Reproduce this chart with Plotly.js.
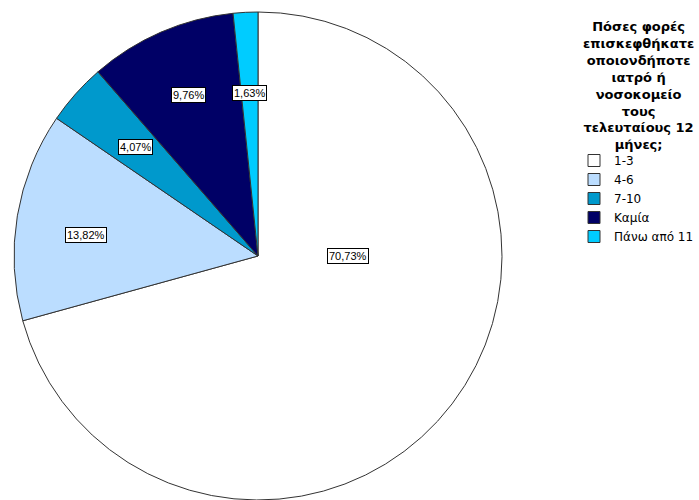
<!DOCTYPE html>
<html>
<head>
<meta charset="utf-8">
<script src="https://cdn.plot.ly/plotly-3.0.1.min.js"></script>
<style>
  html, body { margin: 0; padding: 0; background: #ffffff; }
  #chart { width: 699px; height: 500px; }
</style>
</head>
<body>
<div id="chart"></div>
<script>
// ---- data ----
const categories = ['1-3', '4-6', '7-10', 'Καμία', 'Πάνω από 11'];
const values = [70.73, 13.82, 4.07, 9.76, 1.63];
const valueLabels = ['70,73%', '13,82%', '4,07%', '9,76%', '1,63%'];
const legendTitle = 'Πόσες φορές<br>επισκεφθήκατε<br>οποιονδήποτε<br>ιατρό ή<br>νοσοκομείο<br>τους<br>τελευταίους 12<br>μήνες;';

// ---- style ----
const colors = ['#ffffff', '#bbddff', '#0099cc', '#000066', '#00ccff'];
const W = 699, H = 500;
const M = { l: 0, r: 0, t: 12, b: 0, pad: 0, autoexpand: false };
const domX = [13 / W, 503 / W];
const labelR = [0.37, 0.71, 0.67, 0.72, 0.67];   // radial fraction of label
const labelAngleOverride = [90, 277, null, null, null]; // degrees clockwise from top

// pie geometry (pixels) derived from layout
const plotW = W - M.l - M.r, plotH = H - M.t - M.b;
const dwPx = (domX[1] - domX[0]) * plotW;
const radius = Math.min(dwPx, plotH) / 2;
const cxPx = M.l + (domX[0] + domX[1]) / 2 * plotW;
const cyPx = M.t + plotH / 2;

const total = values.reduce((a, b) => a + b, 0);
let cum = 0;
const annotations = [];
values.forEach((v, i) => {
  const a0 = cum / total * 360;
  cum += v;
  const a1 = cum / total * 360;
  const mid = labelAngleOverride[i] !== null ? labelAngleOverride[i] : (a0 + a1) / 2;
  const rad = mid * Math.PI / 180;
  const px = cxPx + Math.sin(rad) * radius * labelR[i];
  const py = cyPx - Math.cos(rad) * radius * labelR[i];
  annotations.push({
    x: (px - M.l) / plotW, y: 1 - (py - M.t) / plotH,
    xref: 'paper', yref: 'paper', xanchor: 'center', yanchor: 'middle',
    text: valueLabels[i], showarrow: false,
    font: { family: 'Liberation Sans, Arial, sans-serif', size: 11, color: '#000000' },
    bgcolor: '#ffffff', bordercolor: '#000000', borderwidth: 1, borderpad: 1
  });
});

annotations.push({
  x: (638 - M.l) / plotW, y: 1 - (17 - M.t) / plotH,
  xref: 'paper', yref: 'paper', xanchor: 'center', yanchor: 'top',
  text: '<b>' + legendTitle + '</b>', showarrow: false, align: 'center',
  font: { family: 'DejaVu Sans, sans-serif', size: 13, color: '#000000' }
});

const trace = {
  type: 'pie',
  labels: categories,
  values: values,
  sort: false,
  direction: 'clockwise',
  rotation: 0,
  textinfo: 'none',
  hoverinfo: 'label+percent',
  marker: { colors: colors, line: { color: '#333333', width: 1 } },
  domain: { x: domX, y: [0, 1] }
};

const layout = {
  width: W, height: H,
  margin: M,
  paper_bgcolor: '#ffffff',
  plot_bgcolor: '#ffffff',
  showlegend: true,
  legend: {
    x: (574 - M.l) / plotW, xanchor: 'left',
    y: 1 - (146 - M.t) / plotH, yanchor: 'top',
    font: { family: 'DejaVu Sans, sans-serif', size: 12, color: '#000000' },
    tracegroupgap: 0, itemwidth: 30,
    bgcolor: 'rgba(0,0,0,0)'
  },
  annotations: annotations
};

Plotly.newPlot('chart', [trace], layout, { displayModeBar: false, staticPlot: true });
</script>
</body>
</html>
